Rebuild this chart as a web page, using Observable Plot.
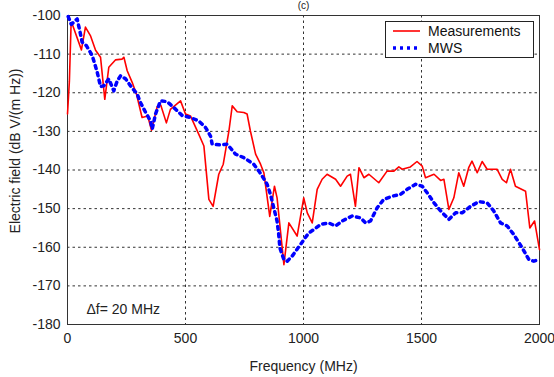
<!DOCTYPE html>
<html>
<head>
<meta charset="utf-8">
<script src="https://cdn.jsdelivr.net/npm/d3@7"></script>
<script src="https://cdn.jsdelivr.net/npm/@observablehq/plot@0.6"></script>
<style>
  html, body { margin: 0; padding: 0; background: #fff; }
  #wrap { position: relative; width: 554px; height: 377px; overflow: hidden; font-family: "Liberation Sans", Arial, sans-serif; }
  #legend { position: absolute; left: 385px; top: 21px; width: 147px; height: 35px; border: 1px solid #222; background: #fff; font-size: 14px; color: #111; }
  #legend .row { position: absolute; left: 0; height: 16px; display: flex; align-items: center; }
  #legend svg { margin-left: 7px; margin-right: 8px; }
</style>
</head>
<body>
<div id="wrap"></div>
<script>
// Measurements (red)
const measFreq = [0, 8, 15, 20, 59, 76, 97, 119, 140, 158, 175, 203, 231, 239, 253, 274, 292, 316, 340, 356, 380, 395, 419, 436, 479, 500, 521, 556, 578, 599, 617, 641, 660, 684, 698, 719, 747, 761, 775, 797, 818, 832, 857, 877, 888, 917, 938, 973, 1001, 1016, 1037, 1058, 1079, 1100, 1136, 1157, 1185, 1199, 1220, 1235, 1256, 1277, 1319, 1354, 1383, 1404, 1418, 1453, 1481, 1503, 1517, 1553, 1581, 1595, 1616, 1637, 1658, 1679, 1700, 1714, 1736, 1757, 1778, 1820, 1842, 1860, 1877, 1898, 1941, 1959, 1979, 2000];
const measVal = [-125.5, -117, -102.6, -102.2, -108.9, -103, -105.2, -109, -110.8, -121.7, -113.4, -111.5, -111.3, -110.8, -114.3, -117.3, -120.3, -126.4, -126.0, -129.7, -123.6, -123.2, -127.8, -124.3, -122.1, -125.5, -126, -130.7, -133.8, -147.6, -149.4, -141.1, -138.5, -129.9, -123.4, -124.9, -125.1, -125.5, -129.9, -135.9, -138.5, -140.7, -152, -144.2, -147.2, -164.5, -153.7, -157.1, -147.2, -151.1, -153.7, -145, -142.4, -141.1, -142.4, -144.2, -141.6, -141.1, -149.4, -139.4, -142, -141.1, -143.3, -140.3, -140.3, -139.2, -139.8, -139.2, -137.8, -139, -142, -141.1, -142.7, -142.4, -150.2, -147.2, -140.7, -144.2, -139.4, -137.7, -140.7, -137.8, -139.8, -139.8, -142.4, -143.3, -139.8, -144.2, -145.5, -155, -153.2, -160.6];

// MWS simulation (blue dotted)
const mwsFreq = [3, 16, 41, 55, 62, 80, 105, 126, 140, 154, 175, 196, 211, 225, 246, 274, 295, 309, 331, 352, 359, 373, 394, 422, 450, 486, 521, 556, 585, 606, 613, 648, 677, 712, 747, 789, 811, 825, 846, 860, 874, 888, 895, 900, 917, 931, 952, 987, 1022, 1044, 1072, 1107, 1136, 1164, 1206, 1242, 1263, 1284, 1312, 1340, 1375, 1411, 1439, 1475, 1503, 1524, 1553, 1581, 1616, 1644, 1672, 1708, 1743, 1778, 1806, 1835, 1863, 1891, 1927, 1955, 1976, 1997];
const mwsVal = [-100.3, -102.3, -100.9, -104.8, -106.9, -107.8, -110.4, -114.7, -118.4, -118.2, -116.4, -119.5, -116.9, -115.6, -116.4, -118.8, -120.3, -122.5, -125.1, -127.3, -129.4, -125.5, -122.1, -122.3, -123.8, -125.9, -126.4, -127.3, -129, -131.2, -133.3, -133.5, -133.3, -135.9, -136.8, -138.5, -140.3, -141.6, -143.7, -146.3, -149.8, -153.2, -156.7, -160.2, -163.2, -163.6, -162.3, -159.3, -156.3, -155.4, -154.1, -153.7, -154.5, -153.2, -151.9, -152.4, -153.7, -153.2, -149.8, -147.6, -146.8, -146.3, -145, -143.7, -144.2, -145.9, -148.5, -150.6, -152.8, -151.1, -151.1, -149.4, -148.2, -148.5, -150.6, -153.7, -154.5, -156.7, -160.2, -163.2, -163.6, -163.2];

const xTicks = [0, 500, 1000, 1500, 2000];
const yTicks = [-100, -110, -120, -130, -140, -150, -160, -170, -180];
const seriesNames = ["Measurements", "MWS"];
const seriesColors = ["#ff0000", "#0000ff"];
const titleText = "(c)";
const noteText = "\u0394f= 20 MHz";
const xLabel = "Frequency (MHz)";
const yLabel = "Electric field (dB V/(m Hz))";

const meas = measFreq.map((f, i) => ({f, v: measVal[i]}));
const mws = mwsFreq.map((f, i) => ({f, v: mwsVal[i]}));

const chart = Plot.plot({
  width: 554,
  height: 377,
  marginLeft: 67,
  marginRight: 15,
  marginTop: 15,
  marginBottom: 53,
  style: {fontFamily: "'Liberation Sans', Arial, sans-serif", fontSize: "14px", color: "#222", background: "#fff", overflow: "visible"},
  x: {domain: [0, 2000], ticks: xTicks, tickFormat: d => String(d), tickSize: 0, tickPadding: 9, label: xLabel, labelAnchor: "center", labelArrow: "none", labelOffset: 46},
  y: {domain: [-180, -100], ticks: yTicks, tickFormat: d => String(d), tickSize: 0, tickPadding: 7, label: null},
  marks: [
    Plot.gridX(xTicks, {stroke: "#333", strokeOpacity: 1, strokeDasharray: "2.5,3", strokeWidth: 1}),
    Plot.gridY(yTicks, {stroke: "#333", strokeOpacity: 1, strokeDasharray: "2.5,3", strokeWidth: 1}),
    Plot.frame({stroke: "#333", strokeWidth: 1}),
    Plot.line(meas, {x: "f", y: "v", stroke: seriesColors[0], strokeWidth: 1.6}),
    Plot.line(mws, {x: "f", y: "v", stroke: seriesColors[1], strokeWidth: 3.5, strokeDasharray: "3,4.5"}),
    Plot.text([noteText], {frameAnchor: "bottom-left", dx: 19, dy: -15, textAnchor: "start", lineAnchor: "middle", fontSize: 14, fill: "#222"}),
    Plot.text([yLabel], {frameAnchor: "left", rotate: -90, dx: -52, dy: -19, textAnchor: "middle", lineAnchor: "middle", fontSize: 14, fill: "#222"}),
    Plot.text([titleText], {frameAnchor: "top", dx: 0, dy: -14, lineAnchor: "top", fontSize: 10, fill: "#222"})
  ]
});

const wrap = document.getElementById("wrap");
wrap.appendChild(chart);

const legend = document.createElement("div");
legend.id = "legend";
seriesNames.forEach((name, i) => {
  const row = document.createElement("div");
  row.className = "row";
  row.style.top = (i === 0 ? 1 : 18) + "px";
  const dash = i === 0 ? "" : 'stroke-dasharray="3,4"';
  const sw = i === 0 ? 1.6 : 3.5;
  row.innerHTML = `<svg width="27" height="10"><line x1="0" y1="5" x2="27" y2="5" stroke="${seriesColors[i]}" stroke-width="${sw}" ${dash}/></svg><span>${name}</span>`;
  legend.appendChild(row);
});
wrap.appendChild(legend);
</script>
</body>
</html>
